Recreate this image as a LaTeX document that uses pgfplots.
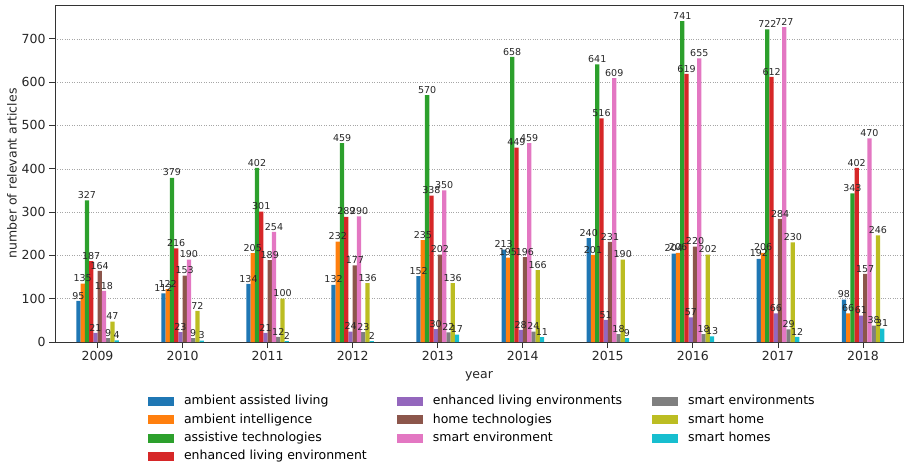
\documentclass[border=0pt]{standalone}
\usepackage{pgfplots}
\usepackage{pgfplotstable}
\pgfplotsset{compat=1.18}
\usepackage{fontspec}
\setmainfont{DejaVu Sans}

\definecolor{c0}{HTML}{1F77B4}
\definecolor{c1}{HTML}{FF7F0E}
\definecolor{c2}{HTML}{2CA02C}
\definecolor{c3}{HTML}{D62728}
\definecolor{c4}{HTML}{9467BD}
\definecolor{c5}{HTML}{8C564B}
\definecolor{c6}{HTML}{E377C2}
\definecolor{c7}{HTML}{7F7F7F}
\definecolor{c8}{HTML}{BCBD22}
\definecolor{c9}{HTML}{17BECF}

\pgfplotstableread{
year aal  ai  at  ele elenvs home senv senvs shome shomes
2009 95  135 327 187 21  164 118 9  47  4
2010 112 122 379 216 23  153 190 9  72  3
2011 134 205 402 301 21  189 254 12 100 2
2012 132 232 459 289 24  177 290 23 136 2
2013 152 235 570 338 30  202 350 22 136 17
2014 213 195 658 449 28  196 459 24 166 11
2015 240 201 641 516 51  231 609 18 190 9
2016 204 206 741 619 57  220 655 18 202 13
2017 192 206 722 612 66  284 727 29 230 12
2018 98  66  343 402 61  157 470 38 246 31
}\articles

\pgfplotsset{
  barpatch/.style={legend image code/.code={\fill[##1] (0pt,-4.5pt) rectangle (26pt,4.5pt);}},
}

\begin{document}
\begin{tikzpicture}
\begin{axis}[
    at={(0,0)}, anchor=south west,
    scale only axis,
    width=848pt, height=337pt,
    ybar, bar width=0.05,
    xmin=2008.5, xmax=2018.47,
    ymin=0, ymax=778,
    xtick={2009,...,2018},
    ytick={0,100,...,700},
    x tick label style={/pgf/number format/1000 sep={}},
    /pgf/number format/assume math mode=true,
    tick label style={font=\fontsize{12.5}{15}\selectfont, color=black!85},
    label style={font=\fontsize{12.5}{15}\selectfont, color=black!85},
    xlabel={year},
    ylabel={number of relevant articles},
    xlabel style={at={(axis description cs:0.5,-0.101)}, anchor=center},
    ylabel style={at={(axis description cs:-0.0507,0.5)}, anchor=center},
    ymajorgrids,
    grid style={dotted, black!35},
    axis line style={black!80, line width=0.8pt},
    tick align=outside, tick pos=left,
    major tick length=6pt,
    tick style={black!80, line width=0.8pt},
    every axis plot/.append style={draw=none, barpatch},
    nodes near coords,
    every node near coord/.append style={font=\fontsize{9.5}{11}\selectfont, color=black!85, inner sep=1.5pt},
    legend columns=3,
    legend cell align=left,
    legend style={draw=none, fill=none, inner sep=0pt, outer sep=0pt,
      at={(rel axis cs:0.1097,-0.149)}, anchor=north west,
      font=\fontsize{12.5}{15}\selectfont,
      nodes={text height=9pt, text depth=2.5pt, inner ysep=3.45pt, inner xsep=10pt},
      /tikz/every even column/.append style={column sep=20pt},
      row sep=0pt},
]
% row-wise order so the legend reads column by column
\addplot[fill=c0, bar shift=-0.225] table[x=year, y=aal] {\articles};
\addlegendentry{ambient assisted living}
\addplot[fill=c4, bar shift=-0.025] table[x=year, y=elenvs] {\articles};
\addlegendentry{enhanced living environments}
\addplot[fill=c7, bar shift=0.125] table[x=year, y=senvs] {\articles};
\addlegendentry{smart environments}
\addplot[fill=c1, bar shift=-0.175] table[x=year, y=ai] {\articles};
\addlegendentry{ambient intelligence}
\addplot[fill=c5, bar shift=0.025] table[x=year, y=home] {\articles};
\addlegendentry{home technologies}
\addplot[fill=c8, bar shift=0.175] table[x=year, y=shome] {\articles};
\addlegendentry{smart home}
\addplot[fill=c2, bar shift=-0.125] table[x=year, y=at] {\articles};
\addlegendentry{assistive technologies}
\addplot[fill=c6, bar shift=0.075] table[x=year, y=senv] {\articles};
\addlegendentry{smart environment}
\addplot[fill=c9, bar shift=0.225] table[x=year, y=shomes] {\articles};
\addlegendentry{smart homes}
\addplot[fill=c3, bar shift=-0.075] table[x=year, y=ele] {\articles};
\addlegendentry{enhanced living environment}
\end{axis}
\pgfresetboundingbox
\path[use as bounding box] (-55pt,-124pt) rectangle (849pt,342pt);
\end{tikzpicture}
\end{document}
